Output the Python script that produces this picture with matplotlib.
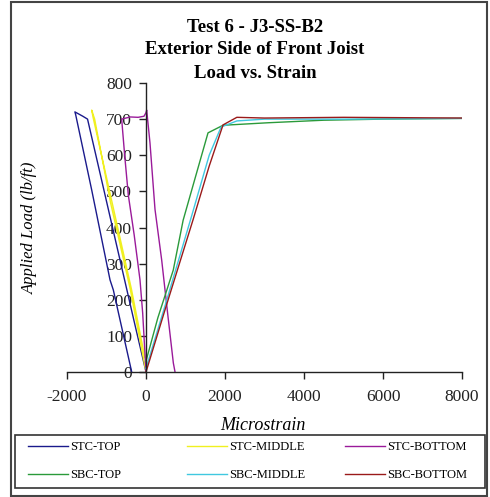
import matplotlib
matplotlib.use("Agg")
import matplotlib.pyplot as plt
from matplotlib.patches import Rectangle

plt.rcParams["font.family"] = ["Liberation Serif", "DejaVu Serif"]

# ---- data ----
stc_top_x = [0, -300, -700, -1100, -1480, -1600, -1800, -1780, -1375, -911, -827, -362]
stc_top_y = [0, 140, 330, 520, 700, 708, 720, 712, 504, 255, 227, 0]

stc_mid_x = [0, -400, -900, -1300, -1375, -1340, -860, -370, -30]
stc_mid_y = [0, 230, 470, 700, 725, 705, 470, 230, 40]

stc_bot_x = [0, -84, -152, -300, -448, -540, -616, -400, -200, -50, 0, 17, 101, 228, 397, 550, 692, 735]
stc_bot_y = [0, 163, 255, 380, 490, 600, 700, 706, 705, 708, 718, 725, 634, 450, 310, 160, 25, 0]

sbc_top_x = [0, 300, 690, 940, 1200, 1570, 1950, 3100, 4500, 6000, 8000]
sbc_top_y = [30, 150, 282, 420, 520, 662, 683, 690, 697, 700, 702]

sbc_mid_x = [0, 500, 1150, 1600, 1900, 2300, 3000, 5000, 8000]
sbc_mid_y = [10, 190, 430, 600, 678, 695, 700, 700, 702]

sbc_bot_x = [0, 481, 1190, 1600, 1950, 2300, 3000, 5000, 8000]
sbc_bot_y = [0, 172, 421, 570, 684, 705, 703, 705, 703]

labels = ["STC-TOP", "STC-MIDDLE", "STC-BOTTOM", "SBC-TOP", "SBC-MIDDLE", "SBC-BOTTOM"]
colors = ["#1a1a8c", "#f0f020", "#9a1a9a", "#2a9a3a", "#40c8e0", "#9a1a1a"]

x_ticks = [-2000, 0, 2000, 4000, 6000, 8000]
y_ticks = [0, 100, 200, 300, 400, 500, 600, 700, 800]

W, H = 490, 497
fig = plt.figure(figsize=(W / 100, H / 100), dpi=100)

ax = fig.add_axes([67 / W, 1 - 372 / H, 395 / W, 289 / H])
ax.spines["top"].set_visible(False)
ax.spines["right"].set_visible(False)
ax.spines["left"].set_position(("data", 0))

series = [(stc_top_x, stc_top_y), (stc_mid_x, stc_mid_y), (stc_bot_x, stc_bot_y),
          (sbc_top_x, sbc_top_y), (sbc_mid_x, sbc_mid_y), (sbc_bot_x, sbc_bot_y)]
lines = []
for (xs, ys), lab, c in zip(series, labels, colors):
    ln, = ax.plot(xs, ys, color=c, lw=1.0, label=lab)
    lines.append(ln)

ax.set_xlim(-2000, 8000)
ax.set_ylim(0, 800)
ax.set_xticks(x_ticks)
ax.set_yticks(y_ticks)
ax.set_xticklabels([str(v) for v in x_ticks], fontsize=12.5)
ax.set_yticklabels([str(v) for v in y_ticks], fontsize=12.5)
for s in ("left", "bottom"):
    ax.spines[s].set_color("#222222")
    ax.spines[s].set_linewidth(1.0)
ax.tick_params(axis="both", direction="out", length=5, width=1.0, colors="#222222")
ax.tick_params(axis="x", pad=7)
ax.tick_params(axis="y", pad=5)
ax.patch.set_alpha(0)

fig.text(30 / W, 1 - 228 / H, "Applied Load (lb/ft)", rotation=90, ha="center", va="center",
         fontstyle="italic", fontsize=12)
fig.text(263 / W, 1 - 425 / H, "Microstrain", ha="center", va="center",
         fontstyle="italic", fontsize=13)

for i, t in enumerate(["Test 6 - J3-SS-B2", "Exterior Side of Front Joist", "Load vs. Strain"]):
    fig.text(255 / W, 1 - (27 + 23 * i) / H, t, ha="center", va="center",
             fontweight="bold", fontsize=13.5)

# legend frame
fig.patches.append(Rectangle((15 / W, 1 - 488 / H), 470 / W, 53 / H, transform=fig.transFigure,
                             fill=False, edgecolor="#333333", lw=1.2))
# outer frame
fig.patches.append(Rectangle((11 / W, 1 - 496 / H), 476 / W, 494 / H, transform=fig.transFigure,
                             fill=False, edgecolor="#444444", lw=1.5))

col_x = [28, 187, 345]
for j in range(3):
    hs = [lines[j], lines[j + 3]]
    fig.legend(handles=hs, labels=[labels[j], labels[j + 3]], loc="upper left",
               bbox_to_anchor=(col_x[j] / W, 1 - 441 / H), frameon=False,
               prop={"size": 9}, handlelength=3.2, handletextpad=0.2,
               borderpad=0, borderaxespad=0, labelspacing=1.3)

fig.savefig("out.png", dpi=100)
